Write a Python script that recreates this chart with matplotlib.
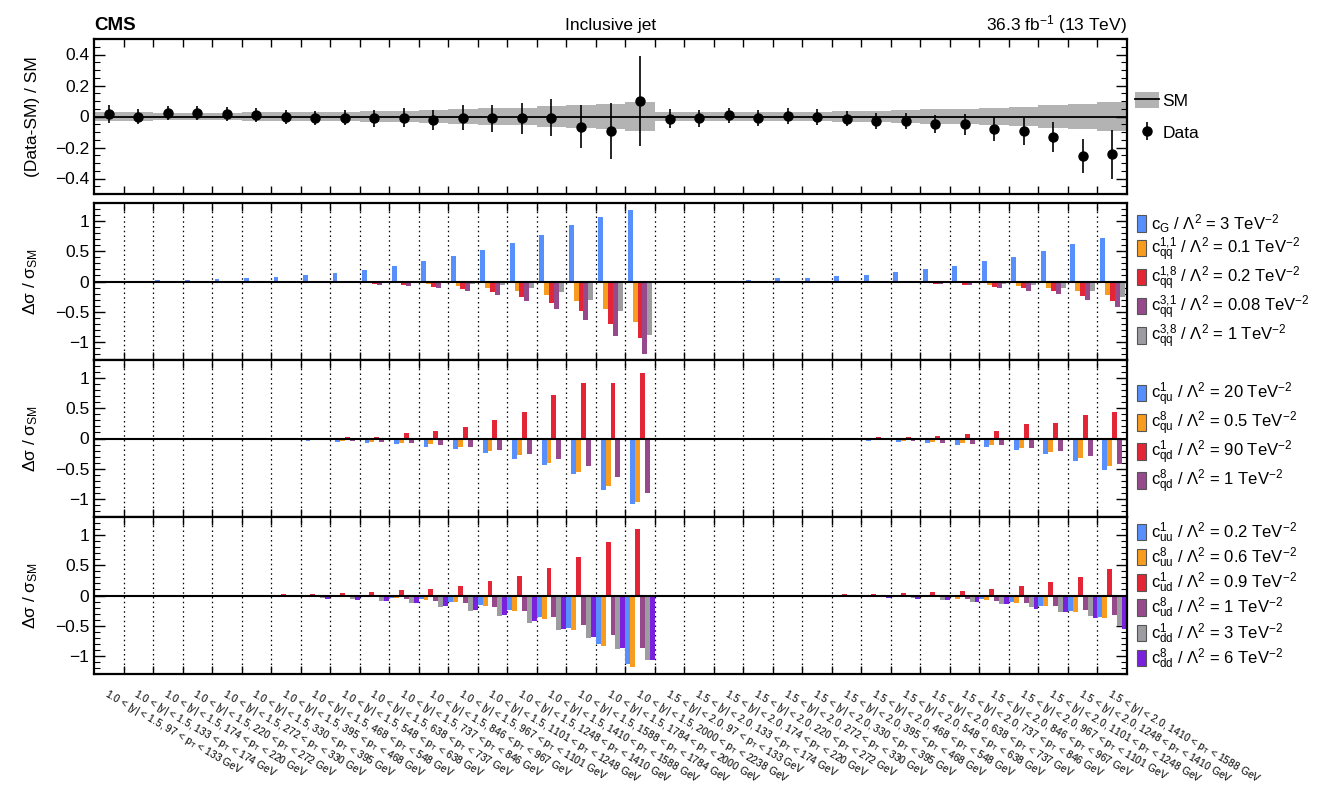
import numpy as np
import matplotlib
matplotlib.use('Agg')
import matplotlib.pyplot as plt
from matplotlib.patches import Patch
from matplotlib.lines import Line2D
from matplotlib.ticker import MultipleLocator, FuncFormatter
from matplotlib.legend_handler import HandlerTuple

plt.rcParams['font.family'] = ['Liberation Sans', 'DejaVu Sans']
plt.rcParams['mathtext.default'] = 'regular'

# ---------------- data ----------------
y_ranges = ["1.0 < |y| < 1.5", "1.5 < |y| < 2.0"]
pt_edges_y1 = [97, 133, 174, 220, 272, 330, 395, 468, 548, 638, 737, 846, 967,
               1101, 1248, 1410, 1588, 1784, 2000, 2238]
pt_edges_y2 = [97, 133, 174, 220, 272, 330, 395, 468, 548, 638, 737, 846, 967,
               1101, 1248, 1410, 1588]

data_ratio = [0.015, 0.0, 0.02, 0.025, 0.015, 0.01, -0.005, -0.007, -0.007, -0.012,
              -0.007, -0.022, -0.007, -0.012, -0.012, -0.007, -0.066, -0.096, 0.10,
              -0.013, -0.010, 0.008, -0.010, 0.004, -0.002, -0.013, -0.028, -0.028,
              -0.049, -0.051, -0.081, -0.096, -0.134, -0.255, -0.245]
data_err = [0.06, 0.05, 0.045, 0.045, 0.045, 0.045, 0.045, 0.045, 0.05, 0.053,
            0.06, 0.065, 0.078, 0.087, 0.10, 0.12, 0.137, 0.18, 0.29,
            0.062, 0.055, 0.05, 0.052, 0.05, 0.05, 0.05, 0.05, 0.053, 0.058,
            0.067, 0.075, 0.086, 0.098, 0.107, 0.155]
sm_unc = [0.027, 0.026, 0.025, 0.025, 0.025, 0.026, 0.027, 0.029, 0.031, 0.034,
          0.037, 0.041, 0.046, 0.052, 0.058, 0.065, 0.074, 0.082, 0.092,
          0.028, 0.027, 0.027, 0.028, 0.029, 0.031, 0.034, 0.037, 0.041, 0.046,
          0.051, 0.057, 0.064, 0.072, 0.082, 0.093]

# panel 2
cG = [0.005, 0.01, 0.02, 0.03, 0.045, 0.06, 0.08, 0.11, 0.145, 0.195, 0.26, 0.34, 0.42,
      0.52, 0.63, 0.77, 0.94, 1.06, 1.19,
      0.003, 0.006, 0.015, 0.03, 0.05, 0.065, 0.085, 0.11, 0.15, 0.21, 0.255, 0.345,
      0.41, 0.5, 0.62, 0.72]
c11qq = [0, 0, 0, 0, 0, 0, 0, -0.002, -0.004, -0.008, -0.02, -0.045, -0.07, -0.1,
         -0.155, -0.22, -0.32, -0.46, -0.67,
         0, 0, 0, 0, 0, 0, 0, -0.002, -0.004, -0.008, -0.03, -0.055, -0.07, -0.1,
         -0.15, -0.22]
c18qq = [0, 0, 0, 0, 0, 0, -0.005, -0.012, -0.033, -0.044, -0.06, -0.09, -0.12, -0.17,
         -0.25, -0.35, -0.49, -0.70, -0.93,
         0, 0, 0, 0, 0, 0, -0.005, -0.015, -0.028, -0.045, -0.055, -0.085, -0.115,
         -0.165, -0.24, -0.33]
c31qq = [0, 0, 0, 0, 0, 0, -0.005, -0.015, -0.033, -0.055, -0.072, -0.105, -0.155,
         -0.22, -0.32, -0.455, -0.64, -0.9, -1.2,
         0, 0, 0, 0, 0, 0, -0.008, -0.02, -0.03, -0.045, -0.065, -0.1, -0.155, -0.21,
         -0.3, -0.43]
c38qq = [0, 0, 0, 0, 0, 0, 0, 0, 0, -0.005, -0.015, -0.03, -0.045, -0.065, -0.1,
         -0.18, -0.3, -0.49, -0.89,
         0, 0, 0, 0, 0, 0, 0, 0, 0, -0.005, -0.02, -0.045, -0.065, -0.1, -0.15, -0.25]

# panel 3
c1qu = [0, 0, 0, 0, 0, -0.005, -0.02, -0.035, -0.055, -0.072, -0.095, -0.14, -0.18,
        -0.24, -0.335, -0.445, -0.585, -0.855, -1.09,
        0, 0, 0, 0, 0, -0.005, -0.02, -0.039, -0.055, -0.072, -0.11, -0.145, -0.19,
        -0.26, -0.365, -0.52]
c8qu = [0, 0, 0, 0, 0, 0, -0.005, -0.015, -0.04, -0.055, -0.072, -0.095, -0.14, -0.2,
        -0.28, -0.4, -0.555, -0.78, -1.055,
        0, 0, 0, 0, 0, 0, -0.01, -0.03, -0.044, -0.061, -0.072, -0.11, -0.16, -0.23,
        -0.33, -0.455]
c1qd = [0, 0, 0, 0, 0, 0, 0, 0.005, 0.022, 0.03, 0.09, 0.125, 0.195, 0.31, 0.445,
        0.72, 0.925, 0.92, 1.09,
        0, 0, 0, 0, 0, 0, 0.01, 0.022, 0.022, 0.039, 0.08, 0.12, 0.245, 0.255, 0.39,
        0.445]
c8qd = [0, 0, 0, 0, 0, -0.003, -0.01, -0.02, -0.04, -0.055, -0.078, -0.11, -0.14,
        -0.195, -0.26, -0.34, -0.455, -0.64, -0.905,
        0, 0, 0, 0, 0, -0.005, -0.02, -0.033, -0.044, -0.067, -0.083, -0.11, -0.15,
        -0.21, -0.285, -0.415]

# panel 4
c1uu = [0, 0, 0, 0, 0, 0, 0, -0.005, -0.01, -0.028, -0.044, -0.061, -0.106, -0.161,
        -0.239, -0.36, -0.544, -0.8, -1.14,
        0, 0, 0, 0, 0, 0, 0, -0.005, -0.01, -0.028, -0.033, -0.06, -0.11, -0.17,
        -0.25, -0.35]
c8uu = [0, 0, 0, 0, 0, 0, 0, -0.005, -0.01, -0.028, -0.044, -0.072, -0.111, -0.172,
        -0.256, -0.383, -0.572, -0.83, -1.19,
        0, 0, 0, 0, 0, 0, 0, -0.005, -0.01, -0.028, -0.05, -0.072, -0.12, -0.18,
        -0.27, -0.38]
c1ud = [0, 0, 0, 0, 0.005, 0.01, 0.017, 0.028, 0.044, 0.055, 0.083, 0.111, 0.161,
        0.233, 0.328, 0.461, 0.633, 0.883, 1.105,
        0, 0, 0, 0, 0.005, 0.01, 0.017, 0.028, 0.039, 0.055, 0.078, 0.11, 0.16, 0.22,
        0.31, 0.44]
c8ud = [0, 0, 0, 0, 0, -0.005, -0.01, -0.015, -0.028, -0.033, -0.061, -0.083, -0.122,
        -0.183, -0.25, -0.35, -0.489, -0.66, -0.87,
        0, 0, 0, 0, 0, -0.005, -0.008, -0.01, -0.02, -0.033, -0.061, -0.083, -0.12,
        -0.17, -0.24, -0.33]
c1dd = [0, 0, 0, -0.003, -0.008, -0.015, -0.028, -0.044, -0.061, -0.089, -0.128,
        -0.183, -0.25, -0.339, -0.45, -0.572, -0.7, -0.88, -1.06,
        0, 0, 0, -0.003, -0.005, -0.01, -0.02, -0.033, -0.044, -0.072, -0.105, -0.144,
        -0.19, -0.27, -0.34, -0.5]
c8dd = [0, 0, 0, -0.005, -0.01, -0.017, -0.033, -0.05, -0.067, -0.094, -0.117, -0.178,
        -0.239, -0.322, -0.417, -0.55, -0.69, -0.87, -1.07,
        0, 0, 0, -0.005, -0.01, -0.017, -0.028, -0.039, -0.055, -0.078, -0.111, -0.139,
        -0.22, -0.27, -0.38, -0.56]

panel2_names = [r"$c_{G}$", r"$c^{1{,}1}_{qq}$", r"$c^{1{,}8}_{qq}$", r"$c^{3{,}1}_{qq}$",
                r"$c^{3{,}8}_{qq}$"]
panel2_vals = ["3", "0.1", "0.2", "0.08", "1"]
panel3_names = [r"$c^{1}_{qu}$", r"$c^{8}_{qu}$", r"$c^{1}_{qd}$", r"$c^{8}_{qd}$"]
panel3_vals = ["20", "0.5", "90", "1"]
panel4_names = [r"$c^{1}_{uu}$", r"$c^{8}_{uu}$", r"$c^{1}_{ud}$", r"$c^{8}_{ud}$",
                r"$c^{1}_{dd}$", r"$c^{8}_{dd}$"]
panel4_vals = ["0.2", "0.6", "0.9", "1", "3", "6"]

colors = ["#5790fc", "#f89c20", "#e42536", "#964a8b", "#9c9ca1", "#7a21dd"]

# ---------------- figure ----------------
labels = []
for yr, edges in zip(y_ranges, [pt_edges_y1, pt_edges_y2]):
    for lo, hi in zip(edges[:-1], edges[1:]):
        labels.append(f"{yr}, {lo} < $p_{{T}}$ < {hi} GeV")
nb = len(labels)
centers = np.arange(nb) + 0.5
bin_edges = np.arange(nb + 1)

fig = plt.figure(figsize=(13.21, 7.88), dpi=100)
W, H = 1321, 788
L, R = 94 / W, 1127 / W


def add_ax(top_px, bot_px):
    return fig.add_axes([L, 1 - bot_px / H, R - L, (bot_px - top_px) / H])


ax0 = add_ax(39, 194)
ax1 = add_ax(203, 360)
ax2 = add_ax(360, 517)
ax3 = add_ax(517, 674)

fmt = FuncFormatter(lambda v, p: ("%g" % v).replace("-", "\u2212"))

for ax in (ax0, ax1, ax2, ax3):
    ax.set_xlim(0, nb)
    for s in ax.spines.values():
        s.set_linewidth(1.6)
    ax.set_xticks(np.arange(1, nb))
    ax.set_xticklabels([])
    ax.tick_params(axis='x', which='major', direction='in', top=True, bottom=True,
                   length=6, width=1)
    ax.tick_params(axis='y', which='both', direction='in', left=True, right=True,
                   labelsize=12.5)
    ax.tick_params(axis='y', which='major', length=8, width=1)
    ax.tick_params(axis='y', which='minor', length=4, width=0.8)
    ax.yaxis.set_major_formatter(fmt)
    ax.yaxis.set_label_coords(-0.052, 0.5)

# top panel
sm_gray = "#b3b3b3"
ax0.set_ylim(-0.5, 0.5)
ax0.yaxis.set_major_locator(MultipleLocator(0.2))
ax0.yaxis.set_minor_locator(MultipleLocator(0.05))
unc = np.asarray(sm_unc)
ax0.fill_between(bin_edges, np.append(-unc, -unc[-1]), np.append(unc, unc[-1]),
                 step='post', color=sm_gray, lw=0, zorder=1)
ax0.axhline(0, color='k', lw=1.3, zorder=2)
eb = ax0.errorbar(centers, data_ratio, yerr=data_err, fmt='o', color='k', ms=6.5,
                  elinewidth=1.2, capsize=0, zorder=3)
ax0.set_ylabel("(Data-SM) / SM", fontsize=12.5)
sm_handle = (Patch(facecolor=sm_gray, edgecolor='none'), Line2D([], [], color='k', lw=1.3))
ax0.legend([sm_handle, eb], ["SM", "Data"], loc='center left', bbox_to_anchor=(1.004, 0.5),
           frameon=False, fontsize=12.5, handlelength=1.4, handleheight=1.0,
           handletextpad=0.2, labelspacing=0.9, borderaxespad=0.0, borderpad=0.2,
           handler_map={tuple: HandlerTuple(ndivide=1, pad=0)})

# bar panels
panels = [
    (ax1, [cG, c11qq, c18qq, c31qq, c38qq], panel2_names, panel2_vals),
    (ax2, [c1qu, c8qu, c1qd, c8qd], panel3_names, panel3_vals),
    (ax3, [c1uu, c8uu, c1ud, c8ud, c1dd, c8dd], panel4_names, panel4_vals),
]
bw = 1 / 6
for ax, series, names, vals in panels:
    ax.set_ylim(-1.3, 1.3)
    ax.yaxis.set_major_locator(MultipleLocator(0.5))
    ax.yaxis.set_minor_locator(MultipleLocator(0.1))
    for e in range(1, nb):
        ax.axvline(e, color='k', ls=(0, (1.2, 2.6)), lw=0.9, zorder=0)
    n = len(series)
    handles = []
    for i, (vals_i, c) in enumerate(zip(series, colors[:n])):
        off = (i - (n - 1) / 2) * bw
        ax.bar(centers + off, vals_i, width=bw, color=c, lw=0, zorder=2)
        handles.append(Patch(facecolor=c, edgecolor='#555555', lw=0.8))
    ax.axhline(0, color='k', lw=1.5, zorder=3)
    ax.set_ylabel(r"Δσ / σ$_{SM}$", fontsize=12.5)
    leg_labels = [f"{nm} / Λ$^{{2}}$ = {v} TeV$^{{-2}}$" for nm, v in zip(names, vals)]
    ax.legend(handles, leg_labels, loc='center left', bbox_to_anchor=(1.006, 0.5),
              frameon=False, fontsize=12, handlelength=0.55, handleheight=1.15,
              handletextpad=0.3, labelspacing=0.05, borderaxespad=0.0, borderpad=0.2)

# bin labels
ax3.set_xticks(centers, minor=True)
ax3.set_xticklabels(labels, minor=True, rotation=-30, ha='left', va='top',
                    rotation_mode='anchor', fontsize=7.5)
ax3.tick_params(axis='x', which='minor', length=0, pad=9)

# header
ty = 1 - 30 / H
fig.text(L, ty, "CMS", fontsize=13.5, fontweight='bold', va='baseline', ha='left')
fig.text((L + R) / 2, ty, "Inclusive jet", fontsize=12.5, va='baseline', ha='center')
fig.text(R, ty, r"36.3 fb$^{-1}$ (13 TeV)", fontsize=12.5, va='baseline', ha='right')

fig.savefig("out.png", dpi=100)
